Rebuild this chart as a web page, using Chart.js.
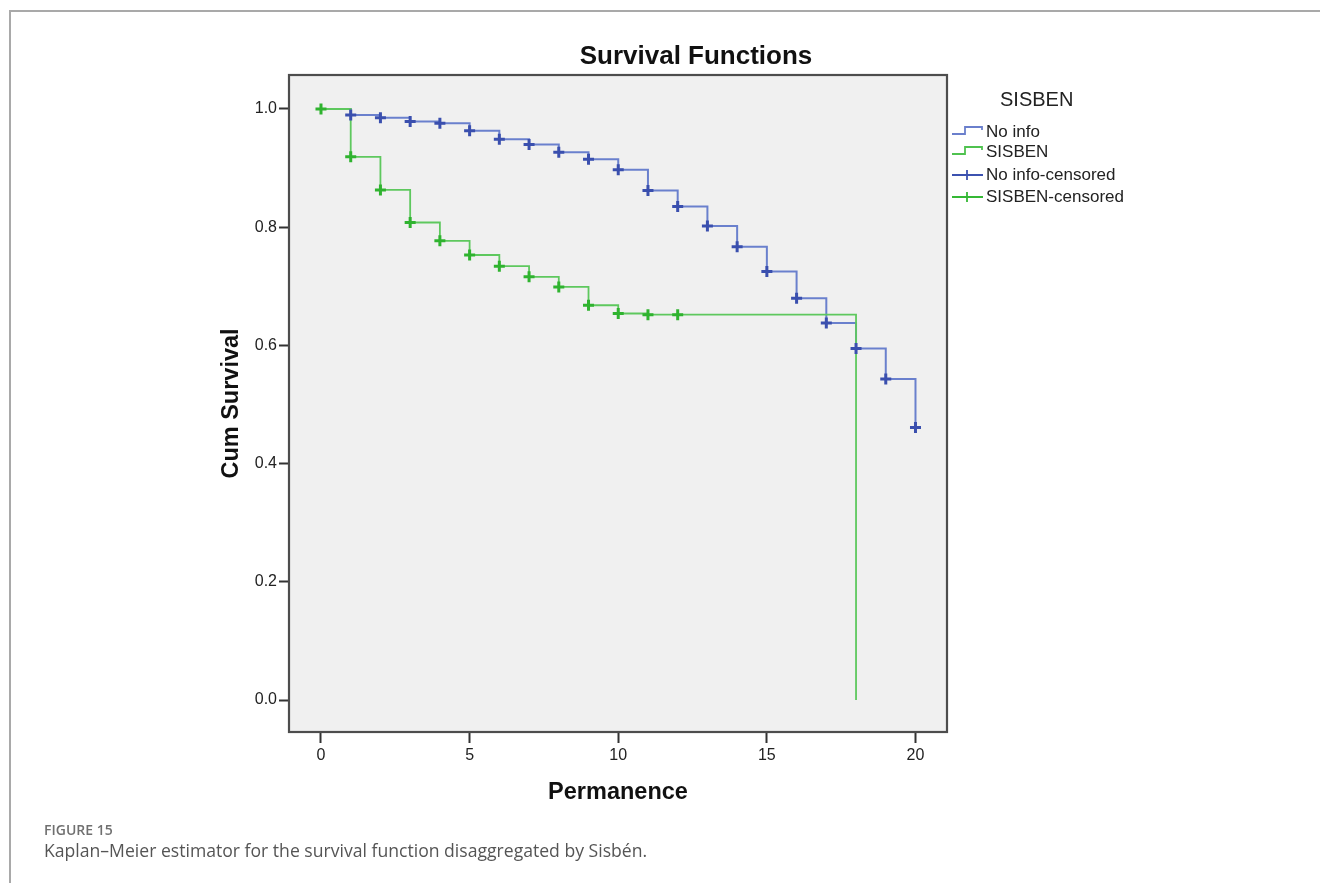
<!DOCTYPE html>
<html>
<head>
<meta charset="utf-8">
<script src="https://cdn.jsdelivr.net/npm/chart.js@4.4.0/dist/chart.umd.min.js"></script>
<style>
  html, body { margin: 0; padding: 0; background: #fff; }
  body { width: 1320px; height: 883px; position: relative; overflow: hidden; }
  #frame { position: absolute; left: 9px; top: 10px; width: 1400px; height: 1000px;
           border-left: 2px solid #a9a9a9; border-top: 2px solid #a9a9a9; }
  #chart_container { position: absolute; left: 0; top: 0; width: 1320px; height: 883px; }
  #legend { position: absolute; left: 0; top: 0; font-family: "Liberation Sans", Arial, sans-serif; color: #222; }
  #legend .title { position: absolute; left: 1000px; top: 88px; font-size: 20px; white-space: nowrap; }
  #legend .item { position: absolute; left: 951px; height: 20px; white-space: nowrap; font-size: 17px; line-height: 20px; }
  #legend .item svg { position: absolute; left: 0; top: 0; }
  #legend .item span { position: absolute; left: 35px; top: 0; }
  .caption-label { position: absolute; left: 44px; top: 820px; font-family: "Open Sans", sans-serif;
                   font-size: 14px; font-weight: 600; color: #707070; }
  .caption { position: absolute; left: 44px; top: 838px; font-family: "Open Sans", sans-serif;
             font-size: 17.6px; color: #555; white-space: nowrap; }
</style>
</head>
<body>
<div id="frame"></div>
<div id="chart_container"><canvas id="myChart"></canvas></div>
<div id="legend">
  <div class="title">SISBEN</div>
  <div class="item" style="top:122px">
    <svg width="34" height="20"><path d="M1 12 H14 V5 H31 V8" fill="none" stroke="#6a7fcc" stroke-width="1.8"/></svg>
    <span>No info</span>
  </div>
  <div class="item" style="top:142px">
    <svg width="34" height="20"><path d="M1 12 H14 V5 H31 V8" fill="none" stroke="#4fc24f" stroke-width="1.8"/></svg>
    <span>SISBEN</span>
  </div>
  <div class="item" style="top:165px">
    <svg width="34" height="20"><path d="M1 10 H32 M16 5 V15" fill="none" stroke="#3c52b0" stroke-width="1.8"/></svg>
    <span>No info-censored</span>
  </div>
  <div class="item" style="top:187px">
    <svg width="34" height="20"><path d="M1 10 H32 M16 5 V15" fill="none" stroke="#35b835" stroke-width="1.8"/></svg>
    <span>SISBEN-censored</span>
  </div>
</div>
<div class="caption-label">FIGURE 15</div>
<div class="caption">Kaplan–Meier estimator for the survival function disaggregated by Sisbén.</div>

<script>
// Kaplan-Meier curves
const noInfoTimes = [0, 1, 2, 3, 4, 5, 6, 7, 8, 9, 10, 11, 12, 13, 14, 15, 16, 17, 18, 19, 20];
const noInfoSurvival = [1.000, 0.990, 0.985, 0.979, 0.976, 0.963, 0.949, 0.940, 0.927, 0.915, 0.897,
                        0.862, 0.835, 0.802, 0.767, 0.725, 0.680, 0.638, 0.595, 0.543, 0.461];
const sisbenTimes = [0, 1, 2, 3, 4, 5, 6, 7, 8, 9, 10, 11, 12, 18];
const sisbenSurvival = [1.000, 0.919, 0.863, 0.808, 0.777, 0.753, 0.734, 0.716, 0.699, 0.668, 0.654, 0.652, 0.652, 0.000];

// censored marks
const noInfoCensoredTimes = [1, 2, 3, 4, 5, 6, 7, 8, 9, 10, 11, 12, 13, 14, 15, 16, 17, 18, 19, 20];
const noInfoCensoredSurvival = [0.990, 0.985, 0.979, 0.976, 0.963, 0.949, 0.940, 0.927, 0.915, 0.897,
                                0.862, 0.835, 0.802, 0.767, 0.725, 0.680, 0.638, 0.595, 0.543, 0.461];
const sisbenCensoredTimes = [0, 1, 2, 3, 4, 5, 6, 7, 8, 9, 10, 11, 12];
const sisbenCensoredSurvival = [1.000, 0.919, 0.863, 0.808, 0.777, 0.753, 0.734, 0.716, 0.699, 0.668, 0.654, 0.652, 0.652];

const xTicks = [0, 5, 10, 15, 20];
const yTicks = [0, 0.2, 0.4, 0.6, 0.8, 1.0];
const yTickLabels = ['0.0', '0.2', '0.4', '0.6', '0.8', '1.0'];
const chartTitle = 'Survival Functions';

const toPoints = (xs, ys) => xs.map((x, i) => ({ x: x, y: ys[i] }));

// grey plot panel with dark frame, plus the title (sits right of centre in the original)
const panel = {
  id: 'panel',
  beforeDatasetsDraw(chart) {
    const { ctx, chartArea: a } = chart;
    ctx.save();
    ctx.fillStyle = '#f0f0f0';
    ctx.fillRect(a.left, a.top, a.right - a.left, a.bottom - a.top);
    ctx.restore();
  },
  afterDatasetsDraw(chart) {
    const { ctx, chartArea: a } = chart;
    ctx.save();
    ctx.strokeStyle = '#4d4d4d';
    ctx.lineWidth = 2.2;
    ctx.strokeRect(a.left, a.top, a.right - a.left, a.bottom - a.top);
    ctx.fillStyle = '#111';
    ctx.font = 'bold 26px "Liberation Sans", Arial, sans-serif';
    ctx.textAlign = 'center';
    ctx.textBaseline = 'middle';
    ctx.fillText(chartTitle, 696, 57);
    ctx.restore();
  }
};

const ctx = document.getElementById('myChart').getContext('2d');
const chart = new Chart(ctx, {
  type: 'line',
  data: {
    datasets: [
      {
        label: 'No info-censored',
        data: toPoints(noInfoCensoredTimes, noInfoCensoredSurvival),
        showLine: false,
        pointStyle: 'cross',
        pointRadius: 5.5,
        pointBorderWidth: 3,
        borderColor: '#3a4fae',
        backgroundColor: '#3a4fae',
        order: 0
      },
      {
        label: 'SISBEN-censored',
        data: toPoints(sisbenCensoredTimes, sisbenCensoredSurvival),
        showLine: false,
        pointStyle: 'cross',
        pointRadius: 5.5,
        pointBorderWidth: 3,
        borderColor: '#2fb32f',
        backgroundColor: '#2fb32f',
        order: 1
      },
      {
        label: 'SISBEN',
        data: toPoints(sisbenTimes, sisbenSurvival),
        stepped: 'before',
        borderColor: '#5ec85e',
        borderWidth: 1.8,
        pointRadius: 0,
        fill: false,
        order: 2
      },
      {
        label: 'No info',
        data: toPoints(noInfoTimes, noInfoSurvival),
        stepped: 'before',
        borderColor: '#6a80cd',
        borderWidth: 2,
        pointRadius: 0,
        fill: false,
        order: 3
      }
    ]
  },
  options: {
    responsive: true,
    maintainAspectRatio: false,
    animation: false,
    layout: { padding: { left: 0, right: 373, top: 75, bottom: 0 } },
    plugins: {
      legend: { display: false },
      tooltip: { enabled: false },
      title: { display: false }
    },
    scales: {
      x: {
        type: 'linear',
        min: -1.076,
        max: 21.06,
        afterBuildTicks: axis => { axis.ticks = xTicks.map(v => ({ value: v })); },
        afterFit: axis => { axis.height = 151; },
        border: { display: false },
        grid: { drawOnChartArea: false, drawTicks: true, tickLength: 11, tickWidth: 2, tickColor: '#333' },
        ticks: {
          color: '#222',
          padding: 3,
          maxRotation: 0,
          font: { family: '"Liberation Sans", Arial, sans-serif', size: 16 }
        },
        title: {
          display: true,
          text: 'Permanence',
          color: '#111',
          font: { family: '"Liberation Sans", Arial, sans-serif', size: 23.5, weight: 'bold', lineHeight: 1.2 },
          padding: { top: 0, bottom: 76 }
        }
      },
      y: {
        type: 'linear',
        min: -0.054,
        max: 1.0575,
        afterBuildTicks: axis => { axis.ticks = yTicks.map(v => ({ value: v })); },
        afterFit: axis => { axis.width = 289; },
        border: { display: false },
        grid: { drawOnChartArea: false, drawTicks: true, tickLength: 10, tickWidth: 2, tickColor: '#333' },
        ticks: {
          color: '#222',
          padding: 2,
          font: { family: '"Liberation Sans", Arial, sans-serif', size: 16 },
          callback: (value, index) => yTickLabels[index]
        },
        title: {
          display: true,
          text: 'Cum Survival',
          color: '#111',
          font: { family: '"Liberation Sans", Arial, sans-serif', size: 23.5, weight: 'bold', lineHeight: 1.2 },
          padding: { top: 217, bottom: 0 }
        }
      }
    }
  },
  plugins: [panel]
});
</script>
</body>
</html>
